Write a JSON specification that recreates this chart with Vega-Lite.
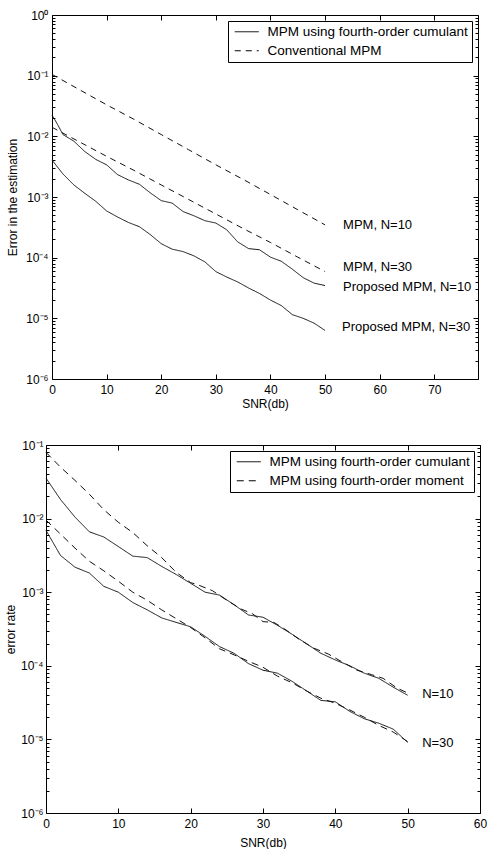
{
  "$schema": "https://vega.github.io/schema/vega-lite/v6.json",
  "background": "white",
  "padding": {"left": 3, "top": 8, "right": 0, "bottom": 0},
  "spacing": 28,
  "resolve": {"scale": {"strokeDash": "independent"}, "legend": {"strokeDash": "independent"}},
  "config": {
    "font": "Liberation Sans",
    "view": {"stroke": "#000", "strokeWidth": 1},
    "axis": {
      "labelFont": "Liberation Sans", "labelFontSize": 12, "labelColor": "#000",
      "titleFont": "Liberation Sans", "titleFontSize": 12, "titleFontWeight": "normal", "titleColor": "#000",
      "domain": false, "grid": false, "tickColor": "#000", "tickWidth": 1,
      "labelFlush": false, "labelOverlap": false, "labelBound": false
    },
    "legend": {
      "orient": "top-right", "offset": 6, "strokeColor": "#000", "fillColor": "#fff", "padding": 4,
      "symbolType": "M-2,0H2", "symbolSize": 144, "symbolOffset": 8, "symbolStrokeWidth": 1, "symbolStrokeColor": "#000",
      "labelFont": "Liberation Sans", "labelFontSize": 13.5, "labelColor": "#000", "labelOffset": 14,
      "labelLimit": 320, "rowPadding": 4, "cornerRadius": 0
    }
  },
  "datasets": {
    "spacer": [{"k": 0}],
    "top": [
      {"method": "MPM using fourth-order cumulant", "N": "10", "snr": 0, "err": 0.0224},
      {"method": "MPM using fourth-order cumulant", "N": "10", "snr": 1, "err": 0.0158},
      {"method": "MPM using fourth-order cumulant", "N": "10", "snr": 2, "err": 0.0107},
      {"method": "MPM using fourth-order cumulant", "N": "10", "snr": 4, "err": 0.00832},
      {"method": "MPM using fourth-order cumulant", "N": "10", "snr": 6, "err": 0.00562},
      {"method": "MPM using fourth-order cumulant", "N": "10", "snr": 8, "err": 0.00417},
      {"method": "MPM using fourth-order cumulant", "N": "10", "snr": 10, "err": 0.00339},
      {"method": "MPM using fourth-order cumulant", "N": "10", "snr": 12, "err": 0.00234},
      {"method": "MPM using fourth-order cumulant", "N": "10", "snr": 14, "err": 0.00191},
      {"method": "MPM using fourth-order cumulant", "N": "10", "snr": 16, "err": 0.00162},
      {"method": "MPM using fourth-order cumulant", "N": "10", "snr": 18, "err": 0.00117},
      {"method": "MPM using fourth-order cumulant", "N": "10", "snr": 20, "err": 0.000871},
      {"method": "MPM using fourth-order cumulant", "N": "10", "snr": 22, "err": 0.000794},
      {"method": "MPM using fourth-order cumulant", "N": "10", "snr": 24, "err": 0.000575},
      {"method": "MPM using fourth-order cumulant", "N": "10", "snr": 26, "err": 0.00049},
      {"method": "MPM using fourth-order cumulant", "N": "10", "snr": 28, "err": 0.000407},
      {"method": "MPM using fourth-order cumulant", "N": "10", "snr": 30, "err": 0.000372},
      {"method": "MPM using fourth-order cumulant", "N": "10", "snr": 32, "err": 0.000288},
      {"method": "MPM using fourth-order cumulant", "N": "10", "snr": 34, "err": 0.000182},
      {"method": "MPM using fourth-order cumulant", "N": "10", "snr": 36, "err": 0.000141},
      {"method": "MPM using fourth-order cumulant", "N": "10", "snr": 38, "err": 0.000135},
      {"method": "MPM using fourth-order cumulant", "N": "10", "snr": 40, "err": 0.000102},
      {"method": "MPM using fourth-order cumulant", "N": "10", "snr": 42, "err": 0.0000871},
      {"method": "MPM using fourth-order cumulant", "N": "10", "snr": 44, "err": 0.0000646},
      {"method": "MPM using fourth-order cumulant", "N": "10", "snr": 46, "err": 0.0000468},
      {"method": "MPM using fourth-order cumulant", "N": "10", "snr": 48, "err": 0.000038},
      {"method": "MPM using fourth-order cumulant", "N": "10", "snr": 50, "err": 0.0000347},
      {"method": "MPM using fourth-order cumulant", "N": "30", "snr": 0, "err": 0.00407},
      {"method": "MPM using fourth-order cumulant", "N": "30", "snr": 2, "err": 0.0024},
      {"method": "MPM using fourth-order cumulant", "N": "30", "snr": 4, "err": 0.00158},
      {"method": "MPM using fourth-order cumulant", "N": "30", "snr": 6, "err": 0.00115},
      {"method": "MPM using fourth-order cumulant", "N": "30", "snr": 8, "err": 0.000851},
      {"method": "MPM using fourth-order cumulant", "N": "30", "snr": 10, "err": 0.000589},
      {"method": "MPM using fourth-order cumulant", "N": "30", "snr": 12, "err": 0.000468},
      {"method": "MPM using fourth-order cumulant", "N": "30", "snr": 14, "err": 0.00038},
      {"method": "MPM using fourth-order cumulant", "N": "30", "snr": 16, "err": 0.000324},
      {"method": "MPM using fourth-order cumulant", "N": "30", "snr": 18, "err": 0.00024},
      {"method": "MPM using fourth-order cumulant", "N": "30", "snr": 20, "err": 0.00017},
      {"method": "MPM using fourth-order cumulant", "N": "30", "snr": 22, "err": 0.000138},
      {"method": "MPM using fourth-order cumulant", "N": "30", "snr": 24, "err": 0.000126},
      {"method": "MPM using fourth-order cumulant", "N": "30", "snr": 26, "err": 0.000107},
      {"method": "MPM using fourth-order cumulant", "N": "30", "snr": 28, "err": 0.0000851},
      {"method": "MPM using fourth-order cumulant", "N": "30", "snr": 30, "err": 0.0000589},
      {"method": "MPM using fourth-order cumulant", "N": "30", "snr": 32, "err": 0.0000479},
      {"method": "MPM using fourth-order cumulant", "N": "30", "snr": 34, "err": 0.0000398},
      {"method": "MPM using fourth-order cumulant", "N": "30", "snr": 36, "err": 0.0000316},
      {"method": "MPM using fourth-order cumulant", "N": "30", "snr": 38, "err": 0.0000257},
      {"method": "MPM using fourth-order cumulant", "N": "30", "snr": 40, "err": 0.00002},
      {"method": "MPM using fourth-order cumulant", "N": "30", "snr": 42, "err": 0.0000162},
      {"method": "MPM using fourth-order cumulant", "N": "30", "snr": 44, "err": 0.0000115},
      {"method": "MPM using fourth-order cumulant", "N": "30", "snr": 46, "err": 0.00001},
      {"method": "MPM using fourth-order cumulant", "N": "30", "snr": 48, "err": 0.00000832},
      {"method": "MPM using fourth-order cumulant", "N": "30", "snr": 50, "err": 0.00000631},
      {"method": "Conventional MPM", "N": "10", "snr": 0, "err": 0.105},
      {"method": "Conventional MPM", "N": "10", "snr": 5, "err": 0.0589},
      {"method": "Conventional MPM", "N": "10", "snr": 10, "err": 0.0331},
      {"method": "Conventional MPM", "N": "10", "snr": 15, "err": 0.0191},
      {"method": "Conventional MPM", "N": "10", "snr": 20, "err": 0.0107},
      {"method": "Conventional MPM", "N": "10", "snr": 25, "err": 0.00603},
      {"method": "Conventional MPM", "N": "10", "snr": 30, "err": 0.00339},
      {"method": "Conventional MPM", "N": "10", "snr": 35, "err": 0.00195},
      {"method": "Conventional MPM", "N": "10", "snr": 40, "err": 0.0011},
      {"method": "Conventional MPM", "N": "10", "snr": 45, "err": 0.000617},
      {"method": "Conventional MPM", "N": "10", "snr": 50, "err": 0.000347},
      {"method": "Conventional MPM", "N": "30", "snr": 0, "err": 0.0141},
      {"method": "Conventional MPM", "N": "30", "snr": 5, "err": 0.00813},
      {"method": "Conventional MPM", "N": "30", "snr": 10, "err": 0.00468},
      {"method": "Conventional MPM", "N": "30", "snr": 15, "err": 0.00275},
      {"method": "Conventional MPM", "N": "30", "snr": 20, "err": 0.00158},
      {"method": "Conventional MPM", "N": "30", "snr": 25, "err": 0.000912},
      {"method": "Conventional MPM", "N": "30", "snr": 30, "err": 0.000525},
      {"method": "Conventional MPM", "N": "30", "snr": 35, "err": 0.000302},
      {"method": "Conventional MPM", "N": "30", "snr": 40, "err": 0.000178},
      {"method": "Conventional MPM", "N": "30", "snr": 45, "err": 0.000102},
      {"method": "Conventional MPM", "N": "30", "snr": 50, "err": 0.0000589}
    ],
    "topLabels": [
      {"snr": 53.3, "err": 0.00035, "label": "MPM, N=10"},
      {"snr": 53.3, "err": 0.00007, "label": "MPM, N=30"},
      {"snr": 53.3, "err": 0.000033, "label": "Proposed MPM, N=10"},
      {"snr": 53.1, "err": 0.0000072, "label": "Proposed MPM, N=30"}
    ],
    "bottom": [
      {"method": "MPM using fourth-order cumulant", "N": "10", "snr": 0, "err": 0.0355},
      {"method": "MPM using fourth-order cumulant", "N": "10", "snr": 2, "err": 0.0182},
      {"method": "MPM using fourth-order cumulant", "N": "10", "snr": 4, "err": 0.0105},
      {"method": "MPM using fourth-order cumulant", "N": "10", "snr": 6, "err": 0.00661},
      {"method": "MPM using fourth-order cumulant", "N": "10", "snr": 8, "err": 0.00562},
      {"method": "MPM using fourth-order cumulant", "N": "10", "snr": 10, "err": 0.00417},
      {"method": "MPM using fourth-order cumulant", "N": "10", "snr": 12, "err": 0.00309},
      {"method": "MPM using fourth-order cumulant", "N": "10", "snr": 14, "err": 0.00295},
      {"method": "MPM using fourth-order cumulant", "N": "10", "snr": 16, "err": 0.00224},
      {"method": "MPM using fourth-order cumulant", "N": "10", "snr": 18, "err": 0.00174},
      {"method": "MPM using fourth-order cumulant", "N": "10", "snr": 20, "err": 0.00132},
      {"method": "MPM using fourth-order cumulant", "N": "10", "snr": 22, "err": 0.001},
      {"method": "MPM using fourth-order cumulant", "N": "10", "snr": 24, "err": 0.000912},
      {"method": "MPM using fourth-order cumulant", "N": "10", "snr": 26, "err": 0.000676},
      {"method": "MPM using fourth-order cumulant", "N": "10", "snr": 28, "err": 0.00049},
      {"method": "MPM using fourth-order cumulant", "N": "10", "snr": 30, "err": 0.000457},
      {"method": "MPM using fourth-order cumulant", "N": "10", "snr": 32, "err": 0.000355},
      {"method": "MPM using fourth-order cumulant", "N": "10", "snr": 34, "err": 0.000269},
      {"method": "MPM using fourth-order cumulant", "N": "10", "snr": 36, "err": 0.0002},
      {"method": "MPM using fourth-order cumulant", "N": "10", "snr": 38, "err": 0.000148},
      {"method": "MPM using fourth-order cumulant", "N": "10", "snr": 40, "err": 0.00012},
      {"method": "MPM using fourth-order cumulant", "N": "10", "snr": 42, "err": 0.0001},
      {"method": "MPM using fourth-order cumulant", "N": "10", "snr": 44, "err": 0.0000794},
      {"method": "MPM using fourth-order cumulant", "N": "10", "snr": 46, "err": 0.0000676},
      {"method": "MPM using fourth-order cumulant", "N": "10", "snr": 48, "err": 0.0000513},
      {"method": "MPM using fourth-order cumulant", "N": "10", "snr": 50, "err": 0.0000398},
      {"method": "MPM using fourth-order cumulant", "N": "30", "snr": 0, "err": 0.00692},
      {"method": "MPM using fourth-order cumulant", "N": "30", "snr": 2, "err": 0.00316},
      {"method": "MPM using fourth-order cumulant", "N": "30", "snr": 4, "err": 0.00219},
      {"method": "MPM using fourth-order cumulant", "N": "30", "snr": 6, "err": 0.00182},
      {"method": "MPM using fourth-order cumulant", "N": "30", "snr": 8, "err": 0.0012},
      {"method": "MPM using fourth-order cumulant", "N": "30", "snr": 10, "err": 0.001},
      {"method": "MPM using fourth-order cumulant", "N": "30", "snr": 12, "err": 0.000724},
      {"method": "MPM using fourth-order cumulant", "N": "30", "snr": 14, "err": 0.000575},
      {"method": "MPM using fourth-order cumulant", "N": "30", "snr": 16, "err": 0.000447},
      {"method": "MPM using fourth-order cumulant", "N": "30", "snr": 18, "err": 0.000389},
      {"method": "MPM using fourth-order cumulant", "N": "30", "snr": 20, "err": 0.000339},
      {"method": "MPM using fourth-order cumulant", "N": "30", "snr": 22, "err": 0.000251},
      {"method": "MPM using fourth-order cumulant", "N": "30", "snr": 24, "err": 0.000182},
      {"method": "MPM using fourth-order cumulant", "N": "30", "snr": 26, "err": 0.000148},
      {"method": "MPM using fourth-order cumulant", "N": "30", "snr": 28, "err": 0.000107},
      {"method": "MPM using fourth-order cumulant", "N": "30", "snr": 30, "err": 0.0000871},
      {"method": "MPM using fourth-order cumulant", "N": "30", "snr": 32, "err": 0.0000794},
      {"method": "MPM using fourth-order cumulant", "N": "30", "snr": 34, "err": 0.0000617},
      {"method": "MPM using fourth-order cumulant", "N": "30", "snr": 36, "err": 0.0000457},
      {"method": "MPM using fourth-order cumulant", "N": "30", "snr": 38, "err": 0.0000339},
      {"method": "MPM using fourth-order cumulant", "N": "30", "snr": 40, "err": 0.0000324},
      {"method": "MPM using fourth-order cumulant", "N": "30", "snr": 42, "err": 0.000024},
      {"method": "MPM using fourth-order cumulant", "N": "30", "snr": 44, "err": 0.0000191},
      {"method": "MPM using fourth-order cumulant", "N": "30", "snr": 46, "err": 0.0000166},
      {"method": "MPM using fourth-order cumulant", "N": "30", "snr": 48, "err": 0.0000138},
      {"method": "MPM using fourth-order cumulant", "N": "30", "snr": 50, "err": 0.00000912},
      {"method": "MPM using fourth-order moment", "N": "10", "snr": 0, "err": 0.0794},
      {"method": "MPM using fourth-order moment", "N": "10", "snr": 2, "err": 0.0501},
      {"method": "MPM using fourth-order moment", "N": "10", "snr": 4, "err": 0.0331},
      {"method": "MPM using fourth-order moment", "N": "10", "snr": 6, "err": 0.0214},
      {"method": "MPM using fourth-order moment", "N": "10", "snr": 8, "err": 0.0132},
      {"method": "MPM using fourth-order moment", "N": "10", "snr": 10, "err": 0.00891},
      {"method": "MPM using fourth-order moment", "N": "10", "snr": 12, "err": 0.00646},
      {"method": "MPM using fourth-order moment", "N": "10", "snr": 14, "err": 0.00427},
      {"method": "MPM using fourth-order moment", "N": "10", "snr": 16, "err": 0.00295},
      {"method": "MPM using fourth-order moment", "N": "10", "snr": 18, "err": 0.00186},
      {"method": "MPM using fourth-order moment", "N": "10", "snr": 20, "err": 0.00135},
      {"method": "MPM using fourth-order moment", "N": "10", "snr": 21, "err": 0.00126},
      {"method": "MPM using fourth-order moment", "N": "10", "snr": 23, "err": 0.00105},
      {"method": "MPM using fourth-order moment", "N": "10", "snr": 25, "err": 0.000776},
      {"method": "MPM using fourth-order moment", "N": "10", "snr": 27, "err": 0.000589},
      {"method": "MPM using fourth-order moment", "N": "10", "snr": 28.5, "err": 0.000513},
      {"method": "MPM using fourth-order moment", "N": "10", "snr": 30, "err": 0.000398},
      {"method": "MPM using fourth-order moment", "N": "10", "snr": 31.5, "err": 0.000389},
      {"method": "MPM using fourth-order moment", "N": "10", "snr": 33, "err": 0.000316},
      {"method": "MPM using fourth-order moment", "N": "10", "snr": 35, "err": 0.000229},
      {"method": "MPM using fourth-order moment", "N": "10", "snr": 37, "err": 0.000174},
      {"method": "MPM using fourth-order moment", "N": "10", "snr": 39, "err": 0.000145},
      {"method": "MPM using fourth-order moment", "N": "10", "snr": 41, "err": 0.000112},
      {"method": "MPM using fourth-order moment", "N": "10", "snr": 43, "err": 0.0000871},
      {"method": "MPM using fourth-order moment", "N": "10", "snr": 45, "err": 0.0000759},
      {"method": "MPM using fourth-order moment", "N": "10", "snr": 46.6, "err": 0.0000676},
      {"method": "MPM using fourth-order moment", "N": "10", "snr": 48.5, "err": 0.0000501},
      {"method": "MPM using fourth-order moment", "N": "10", "snr": 50, "err": 0.0000427},
      {"method": "MPM using fourth-order moment", "N": "30", "snr": 0, "err": 0.00955},
      {"method": "MPM using fourth-order moment", "N": "30", "snr": 2, "err": 0.00617},
      {"method": "MPM using fourth-order moment", "N": "30", "snr": 4, "err": 0.00398},
      {"method": "MPM using fourth-order moment", "N": "30", "snr": 6, "err": 0.00263},
      {"method": "MPM using fourth-order moment", "N": "30", "snr": 8, "err": 0.00195},
      {"method": "MPM using fourth-order moment", "N": "30", "snr": 10, "err": 0.00141},
      {"method": "MPM using fourth-order moment", "N": "30", "snr": 12, "err": 0.001},
      {"method": "MPM using fourth-order moment", "N": "30", "snr": 14, "err": 0.000776},
      {"method": "MPM using fourth-order moment", "N": "30", "snr": 16, "err": 0.000575},
      {"method": "MPM using fourth-order moment", "N": "30", "snr": 18, "err": 0.000437},
      {"method": "MPM using fourth-order moment", "N": "30", "snr": 20, "err": 0.000331},
      {"method": "MPM using fourth-order moment", "N": "30", "snr": 22, "err": 0.00024},
      {"method": "MPM using fourth-order moment", "N": "30", "snr": 24, "err": 0.00017},
      {"method": "MPM using fourth-order moment", "N": "30", "snr": 26, "err": 0.000141},
      {"method": "MPM using fourth-order moment", "N": "30", "snr": 28, "err": 0.000115},
      {"method": "MPM using fourth-order moment", "N": "30", "snr": 30, "err": 0.0000955},
      {"method": "MPM using fourth-order moment", "N": "30", "snr": 32, "err": 0.0000724},
      {"method": "MPM using fourth-order moment", "N": "30", "snr": 34, "err": 0.0000589},
      {"method": "MPM using fourth-order moment", "N": "30", "snr": 36, "err": 0.0000457},
      {"method": "MPM using fourth-order moment", "N": "30", "snr": 38, "err": 0.0000363},
      {"method": "MPM using fourth-order moment", "N": "30", "snr": 40, "err": 0.0000309},
      {"method": "MPM using fourth-order moment", "N": "30", "snr": 42, "err": 0.0000251},
      {"method": "MPM using fourth-order moment", "N": "30", "snr": 44, "err": 0.00002},
      {"method": "MPM using fourth-order moment", "N": "30", "snr": 46, "err": 0.0000155},
      {"method": "MPM using fourth-order moment", "N": "30", "snr": 48, "err": 0.0000126},
      {"method": "MPM using fourth-order moment", "N": "30", "snr": 50, "err": 0.00000933}
    ],
    "bottomLabels": [
      {"snr": 52, "err": 0.000042, "label": "N=10"},
      {"snr": 52, "err": 0.0000089, "label": "N=30"}
    ]
  },
  "vconcat": [
    {"resolve": {"scale": {"strokeDash": "independent"}, "legend": {"strokeDash": "independent"}},
     "spacing": -45,
     "hconcat": [
    {
      "width": 1,
      "height": 1,
      "view": {"stroke": null},
      "data": {"name": "spacer"},
      "mark": {"type": "point", "opacity": 0},
      "encoding": {}
    },
    {
      "width": 426,
      "height": 364,
      "layer": [
        {
          "data": {"name": "top"},
          "mark": {"type": "line", "color": "#111", "strokeWidth": 1},
          "encoding": {
            "x": {"field": "snr", "type": "quantitative",
              "scale": {"domain": [0, 78], "nice": false, "zero": false},
              "axis": {"orient": "bottom", "values": [0, 10, 20, 30, 40, 50, 60, 70], "tickSize": -5, "labelPadding": 10, "title": "SNR(db)", "titlePadding": 3}},
            "y": {"field": "err", "type": "quantitative",
              "scale": {"type": "log", "domain": [0.000001, 1], "nice": false},
              "axis": {"orient": "left", "title": "Error in the estimation", "titlePadding": 6, "labelPadding": 9,
                "values": [0.000001,0.000002,0.000003,0.000004,0.000005,0.000006,0.000007,0.000008,0.000009,0.00001,0.00002,0.00003,0.00004,0.00005,0.00006,0.00007,0.00008,0.00009,0.0001,0.0002,0.0003,0.0004,0.0005,0.0006,0.0007,0.0008,0.0009,0.001,0.002,0.003,0.004,0.005,0.006,0.007,0.008,0.009,0.01,0.02,0.03,0.04,0.05,0.06,0.07,0.08,0.09,0.1,0.2,0.3,0.4,0.5,0.6,0.7,0.8,0.9,1],
                "tickSize": {"condition": {"test": "abs(log(datum.value)/LN10 - round(log(datum.value)/LN10)) < 0.001", "value": -5}, "value": -3},
                "labelExpr": "abs(log(datum.value)/LN10 - round(log(datum.value)/LN10)) < 0.001 ? (round(log(datum.value)/LN10) == 0 ? '10⁰' : '10⁻' + ['⁰','¹','²','³','⁴','⁵','⁶','⁷','⁸','⁹'][-round(log(datum.value)/LN10)]) : ''"}},
            "strokeDash": {"field": "method", "type": "nominal",
              "scale": {"domain": ["MPM using fourth-order cumulant", "Conventional MPM"], "range": [[1, 0], [6, 5]]},
              "legend": {"title": null, "orient": "top-right"}},
            "detail": {"field": "N"}
          }
        },
        {
          "data": {"name": "topLabels"},
          "mark": {"type": "text", "align": "left", "baseline": "middle", "fontSize": 13, "font": "Liberation Sans", "color": "#000"},
          "encoding": {
            "x": {"field": "snr", "type": "quantitative",
              "axis": {"orient": "top", "values": [0, 10, 20, 30, 40, 50, 60, 70], "tickSize": -5, "labels": false, "title": null}},
            "y": {"field": "err", "type": "quantitative",
              "axis": {"orient": "right", "labels": false, "title": null,
                "values": [0.000001,0.000002,0.000003,0.000004,0.000005,0.000006,0.000007,0.000008,0.000009,0.00001,0.00002,0.00003,0.00004,0.00005,0.00006,0.00007,0.00008,0.00009,0.0001,0.0002,0.0003,0.0004,0.0005,0.0006,0.0007,0.0008,0.0009,0.001,0.002,0.003,0.004,0.005,0.006,0.007,0.008,0.009,0.01,0.02,0.03,0.04,0.05,0.06,0.07,0.08,0.09,0.1,0.2,0.3,0.4,0.5,0.6,0.7,0.8,0.9,1],
                "tickSize": {"condition": {"test": "abs(log(datum.value)/LN10 - round(log(datum.value)/LN10)) < 0.001", "value": -5}, "value": -3}}},
            "text": {"field": "label"}
          }
        }
      ]
    }]},
    {"resolve": {"scale": {"strokeDash": "independent"}, "legend": {"strokeDash": "independent"}},
     "hconcat": [
    {
      "width": 434,
      "height": 368,
      "layer": [
        {
          "data": {"name": "bottom"},
          "mark": {"type": "line", "color": "#111", "strokeWidth": 1},
          "encoding": {
            "x": {"field": "snr", "type": "quantitative",
              "scale": {"domain": [0, 60], "nice": false, "zero": false},
              "axis": {"orient": "bottom", "values": [0, 10, 20, 30, 40, 50, 60], "tickSize": -5, "labelPadding": 10, "title": "SNR(db)", "titlePadding": 8}},
            "y": {"field": "err", "type": "quantitative",
              "scale": {"type": "log", "domain": [0.000001, 0.1], "nice": false},
              "axis": {"orient": "left", "title": "error rate", "titlePadding": 3, "labelPadding": 8,
                "values": [0.000001,0.000002,0.000003,0.000004,0.000005,0.000006,0.000007,0.000008,0.000009,0.00001,0.00002,0.00003,0.00004,0.00005,0.00006,0.00007,0.00008,0.00009,0.0001,0.0002,0.0003,0.0004,0.0005,0.0006,0.0007,0.0008,0.0009,0.001,0.002,0.003,0.004,0.005,0.006,0.007,0.008,0.009,0.01,0.02,0.03,0.04,0.05,0.06,0.07,0.08,0.09,0.1],
                "tickSize": {"condition": {"test": "abs(log(datum.value)/LN10 - round(log(datum.value)/LN10)) < 0.001", "value": -5}, "value": -3},
                "labelExpr": "abs(log(datum.value)/LN10 - round(log(datum.value)/LN10)) < 0.001 ? (round(log(datum.value)/LN10) == 0 ? '10⁰' : '10⁻' + ['⁰','¹','²','³','⁴','⁵','⁶','⁷','⁸','⁹'][-round(log(datum.value)/LN10)]) : ''"}},
            "strokeDash": {"field": "method", "type": "nominal",
              "scale": {"domain": ["MPM using fourth-order cumulant", "MPM using fourth-order moment"], "range": [[1, 0], [7, 5]]},
              "legend": {"title": null, "orient": "top-right"}},
            "detail": {"field": "N"}
          }
        },
        {
          "data": {"name": "bottomLabels"},
          "mark": {"type": "text", "align": "left", "baseline": "middle", "fontSize": 13, "font": "Liberation Sans", "color": "#000"},
          "encoding": {
            "x": {"field": "snr", "type": "quantitative",
              "axis": {"orient": "top", "values": [0, 10, 20, 30, 40, 50, 60], "tickSize": -5, "labels": false, "title": null}},
            "y": {"field": "err", "type": "quantitative",
              "axis": {"orient": "right", "labels": false, "title": null,
                "values": [0.000001,0.000002,0.000003,0.000004,0.000005,0.000006,0.000007,0.000008,0.000009,0.00001,0.00002,0.00003,0.00004,0.00005,0.00006,0.00007,0.00008,0.00009,0.0001,0.0002,0.0003,0.0004,0.0005,0.0006,0.0007,0.0008,0.0009,0.001,0.002,0.003,0.004,0.005,0.006,0.007,0.008,0.009,0.01,0.02,0.03,0.04,0.05,0.06,0.07,0.08,0.09,0.1],
                "tickSize": {"condition": {"test": "abs(log(datum.value)/LN10 - round(log(datum.value)/LN10)) < 0.001", "value": -5}, "value": -3}}},
            "text": {"field": "label"}
          }
        }
      ]
    }]}
  ]
}
